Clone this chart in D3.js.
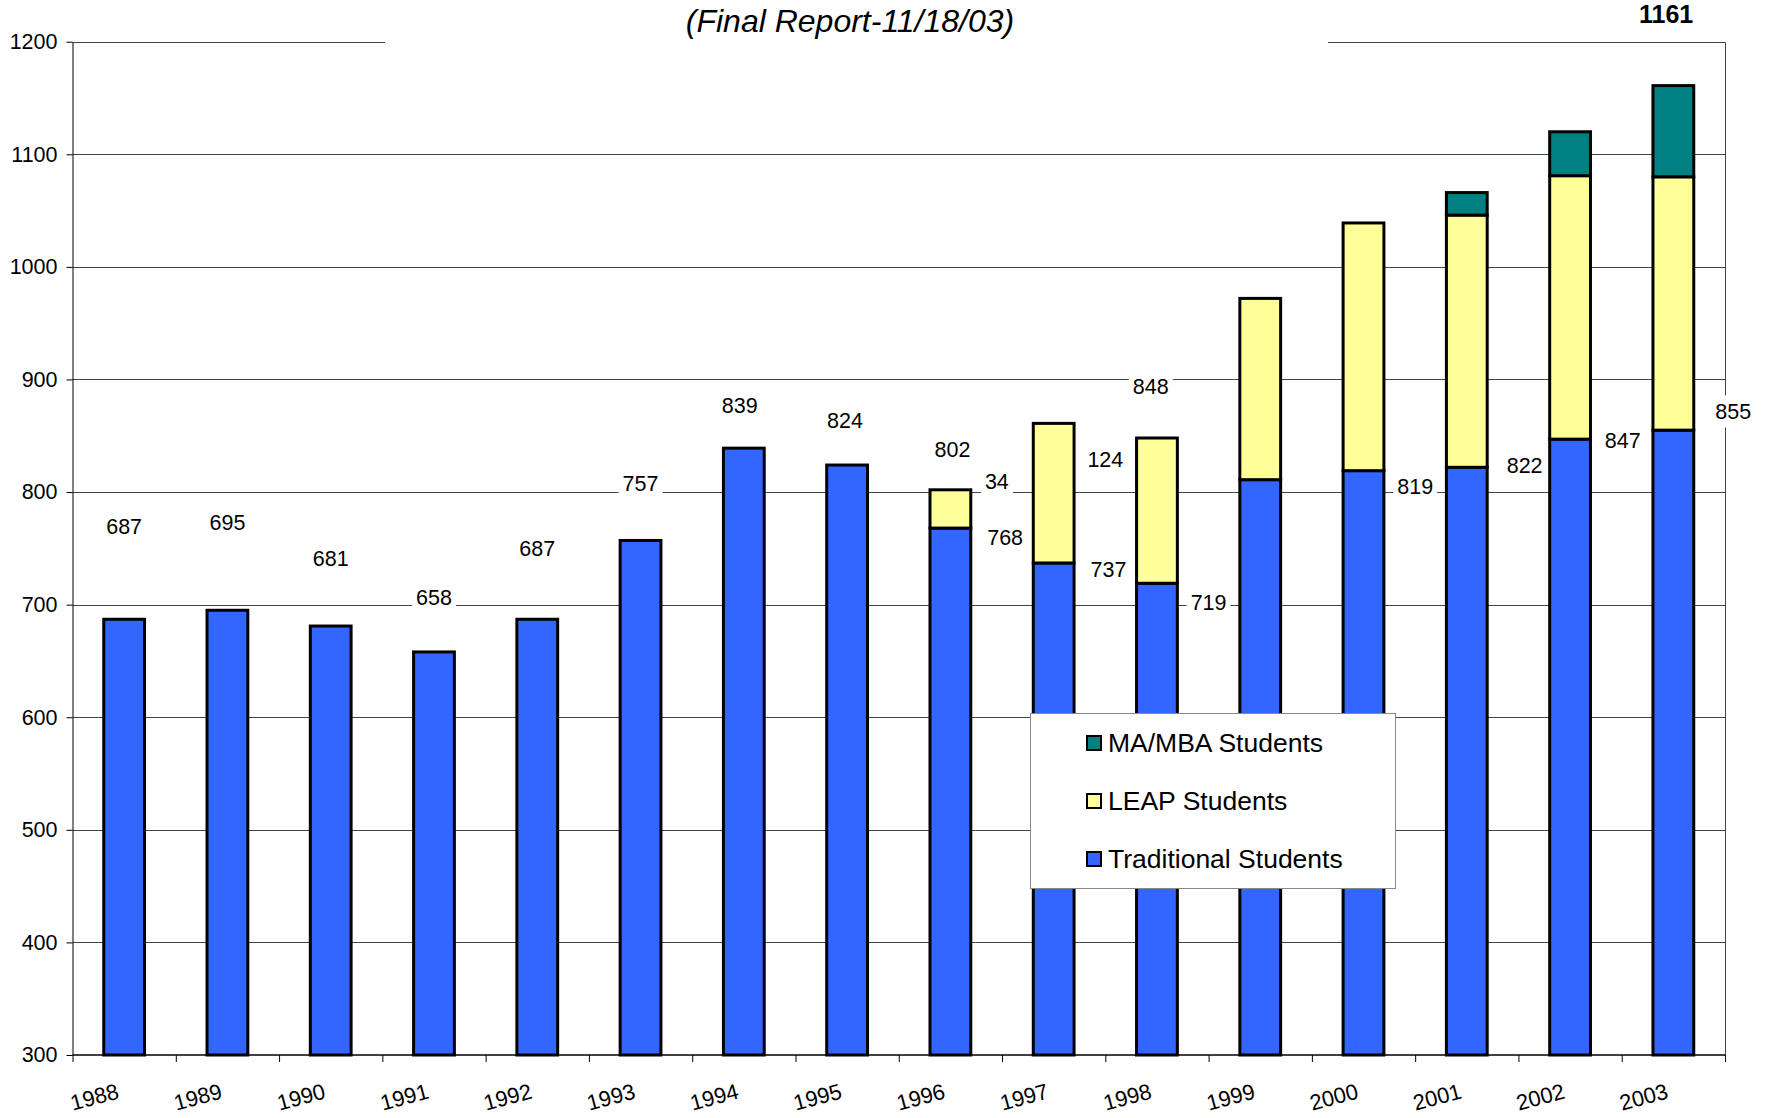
<!DOCTYPE html>
<html>
<head>
<meta charset="utf-8">
<script src="https://cdn.jsdelivr.net/npm/d3@7"></script>
<style>
  body { margin: 0; background: #fff; }
  svg { display: block; font-family: "Liberation Sans", Arial, sans-serif; }
</style>
</head>
<body>
<div id="chart"></div>
<script>
// Data
const years = ["1988", "1989", "1990", "1991", "1992", "1993", "1994", "1995",
  "1996", "1997", "1998", "1999", "2000", "2001", "2002", "2003"];
const traditional = [687, 695, 681, 658, 687, 757, 839, 824, 768, 737, 719, 811, 819, 822, 847, 855];
const leap = [0, 0, 0, 0, 0, 0, 0, 0, 34, 124, 129, 161, 220, 224, 234, 225];
const maMba = [0, 0, 0, 0, 0, 0, 0, 0, 0, 0, 0, 0, 0, 20, 39, 81];
const seriesNames = ["Traditional Students", "LEAP Students", "MA/MBA Students"];
const yTicks = [300, 400, 500, 600, 700, 800, 900, 1000, 1100, 1200];
const subtitle = "(Final Report-11/18/03)";

// value labels as placed in the original: year, text, level (axis units), sideways shift (band units)
const labelSpots = [
  { year: "1988", text: "687", level: 769, shift: 0 },
  { year: "1989", text: "695", level: 773, shift: 0 },
  { year: "1990", text: "681", level: 741, shift: 0 },
  { year: "1991", text: "658", level: 706, shift: 0 },
  { year: "1992", text: "687", level: 750, shift: 0 },
  { year: "1993", text: "757", level: 808, shift: 0 },
  { year: "1994", text: "839", level: 877, shift: -0.04 },
  { year: "1995", text: "824", level: 864, shift: -0.02 },
  { year: "1996", text: "802", level: 838, shift: 0.02 },
  { year: "1996", text: "34", level: 809, shift: 0.45 },
  { year: "1996", text: "768", level: 760, shift: 0.53 },
  { year: "1997", text: "124", level: 829, shift: 0.5 },
  { year: "1997", text: "737", level: 731, shift: 0.53 },
  { year: "1998", text: "848", level: 894, shift: -0.06 },
  { year: "1998", text: "719", level: 702, shift: 0.5 },
  { year: "2000", text: "819", level: 805, shift: 0.5 },
  { year: "2001", text: "822", level: 824, shift: 0.56 },
  { year: "2002", text: "847", level: 846, shift: 0.51 },
  { year: "2003", text: "855", level: 872, shift: 0.58 },
  { year: "2003", text: "1161", level: 1224, shift: -0.07, bold: true }
];

const WIDTH = 1775;
const HEIGHT = 1118;
const colors = { "Traditional Students": "#3366ff", "LEAP Students": "#ffff99", "MA/MBA Students": "#008080" };

const rows = years.map((year, i) => ({
  year,
  "Traditional Students": traditional[i],
  "LEAP Students": leap[i],
  "MA/MBA Students": maMba[i]
}));

const stacked = d3.stack().keys(seriesNames)(rows);

const x = d3.scaleBand().domain(years).range([72.5, 1725]).padding(0);
const y = d3.scaleLinear().domain([300, 1200]).range([1055, 41.7]);
const barW = x.bandwidth() * 0.395;
const yMin = y.domain()[0];

const svg = d3.select("#chart").append("svg")
  .attr("width", WIDTH)
  .attr("height", HEIGHT)
  .attr("viewBox", `0 0 ${WIDTH} ${HEIGHT}`);

const [x0, x1] = x.range();

// gridlines
svg.append("g").attr("class", "grid")
  .selectAll("line")
  .data(yTicks.filter((t) => t > 300 && t < 1200))
  .join("line")
  .attr("x1", x0).attr("x2", x1)
  .attr("y1", (d) => Math.round(y(d)) + 0.5).attr("y2", (d) => Math.round(y(d)) + 0.5)
  .attr("stroke", "#444").attr("stroke-width", 1);

// plot frame (top + right)
svg.append("path")
  .attr("d", `M${x0},${Math.round(y(1200)) + 0.5}H${x1 + 0.5}V${y(300)}`)
  .attr("fill", "none").attr("stroke", "#444").attr("stroke-width", 1);

// title area
svg.append("rect")
  .attr("x", 385).attr("y", 0).attr("width", 943).attr("height", 48)
  .attr("fill", "#fff");
svg.append("text")
  .attr("x", 850).attr("y", 32)
  .attr("text-anchor", "middle")
  .attr("font-size", 32).attr("font-style", "italic")
  .text(subtitle);

// bars (clipped to the axis floor at 300)
svg.append("g").attr("class", "bars")
  .selectAll("g")
  .data(stacked)
  .join("g")
  .attr("fill", (d) => colors[d.key])
  .selectAll("rect")
  .data((d) => d.filter((seg) => seg[1] - seg[0] > 0))
  .join("rect")
  .attr("x", (d) => x(d.data.year) + (x.bandwidth() - barW) / 2)
  .attr("y", (d) => y(d[1]))
  .attr("width", barW)
  .attr("height", (d) => y(Math.max(d[0], yMin)) - y(d[1]))
  .attr("stroke", "#000")
  .attr("stroke-width", 3);

// y axis
const yAxis = svg.append("g")
  .attr("transform", `translate(${x0},0)`)
  .call(d3.axisLeft(y).tickValues(yTicks).tickFormat(d3.format("d"))
    .tickSize(6).tickSizeOuter(0).tickPadding(9));
yAxis.selectAll("text").attr("font-size", 21.5).attr("font-family", "Liberation Sans, Arial, sans-serif").attr("fill", "#000");
yAxis.selectAll("line,path").attr("stroke", "#000");

// x axis
const xAxisG = svg.append("g").attr("class", "x-axis");
xAxisG.append("line")
  .attr("x1", x0).attr("x2", x1)
  .attr("y1", y(300)).attr("y2", y(300))
  .attr("stroke", "#000").attr("stroke-width", 1.5);
xAxisG.selectAll("line.tick")
  .data(years.concat(["end"]))
  .join("line")
  .attr("class", "tick")
  .attr("x1", (d) => (d === "end" ? x1 : x(d)) + 0.5)
  .attr("x2", (d) => (d === "end" ? x1 : x(d)) + 0.5)
  .attr("y1", y(300)).attr("y2", y(300) + 7)
  .attr("stroke", "#000");
xAxisG.selectAll("text")
  .data(years)
  .join("text")
  .attr("transform", (d) => `translate(${x(d) + x.bandwidth() / 2 - 4},${y(300) + 43}) rotate(-15)`)
  .attr("text-anchor", "end")
  .attr("font-size", 22)
  .text((d) => d);

// legend
const legend = svg.append("g").attr("transform", "translate(1030,713)");
legend.append("rect")
  .attr("x", 0.5).attr("y", 0.5).attr("width", 365).attr("height", 175)
  .attr("fill", "#fff").attr("stroke", "#888");
const legendItems = legend.selectAll("g.item")
  .data(seriesNames.slice().reverse())
  .join("g")
  .attr("class", "item")
  .attr("transform", (d, i) => `translate(57,${30 + i * 58})`);
legendItems.append("rect")
  .attr("x", 0).attr("y", -7).attr("width", 14).attr("height", 14)
  .attr("fill", (d) => colors[d]).attr("stroke", "#000").attr("stroke-width", 2);
legendItems.append("text")
  .attr("x", 21).attr("dy", "0.35em")
  .attr("font-size", 26.5)
  .text((d) => d);

// value labels with white boxes
const labels = svg.append("g").attr("class", "labels")
  .selectAll("g")
  .data(labelSpots)
  .join("g")
  .attr("transform", (d) => `translate(${x(d.year) + x.bandwidth() * (0.5 + d.shift)},${y(d.level)})`);
labels.append("text")
  .attr("text-anchor", "middle")
  .attr("dy", "0.35em")
  .attr("font-size", (d) => (d.bold ? 25 : 21.5))
  .attr("font-weight", (d) => (d.bold ? "bold" : "normal"))
  .text((d) => d.text);
labels.each(function (d) {
  const g = d3.select(this);
  const bb = g.select("text").node().getBBox();
  const padX = d.bold ? 10 : 4;
  g.insert("rect", "text")
    .attr("x", bb.x - padX).attr("y", bb.y - 4)
    .attr("width", bb.width + padX * 2).attr("height", bb.height + 8)
    .attr("fill", "#fff");
});
</script>
</body>
</html>
